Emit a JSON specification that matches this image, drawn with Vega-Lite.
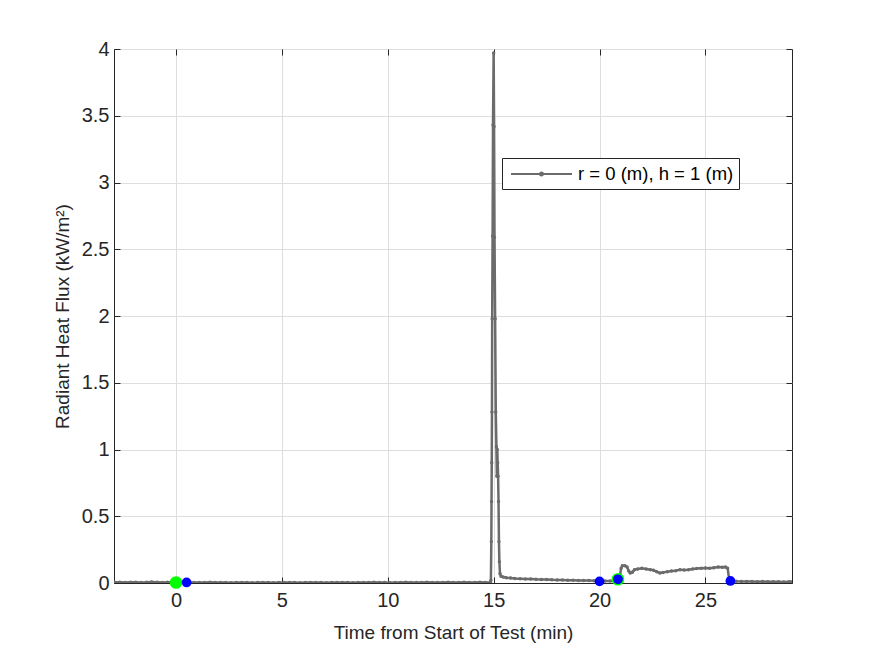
{
  "$schema": "https://vega.github.io/schema/vega-lite/v6.json",
  "autosize": {"type": "none"},
  "width": 678,
  "height": 534,
  "padding": {"left": 114, "top": 49, "right": 83, "bottom": 73},
  "background": "white",
  "config": {
    "view": {"stroke": "#262626", "strokeWidth": 1},
    "font": "Liberation Sans",
    "axis": {
      "labelFont": "Liberation Sans",
      "titleFont": "Liberation Sans",
      "labelColor": "#262626",
      "titleColor": "#262626",
      "labelFontSize": 20,
      "titleFontSize": 19,
      "titleFontWeight": "normal",
      "domainColor": "#262626",
      "tickColor": "#262626",
      "gridColor": "#dedede",
      "gridWidth": 1,
      "tickSize": -6
    },
    "axisX": {"labelPadding": 13},
    "axisY": {"labelPadding": 11}
  },
  "datasets": {
    "flux": [
      {"t": -2.9, "q": 0.006}, {"t": -2.65, "q": 0.005}, {"t": -2.4, "q": 0.004}, {"t": -2.15, "q": 0.006},
      {"t": -1.9, "q": 0.005}, {"t": -1.65, "q": 0.004}, {"t": -1.4, "q": 0.005}, {"t": -1.15, "q": 0.007},
      {"t": -0.9, "q": 0.006}, {"t": -0.65, "q": 0.004}, {"t": -0.4, "q": 0.005}, {"t": -0.15, "q": 0.006},
      {"t": 0.1, "q": 0.004}, {"t": 0.35, "q": 0.003}, {"t": 0.6, "q": 0.005}, {"t": 0.85, "q": 0.004},
      {"t": 1.1, "q": 0.003}, {"t": 1.35, "q": 0.004}, {"t": 1.6, "q": 0.005}, {"t": 1.85, "q": 0.003},
      {"t": 2.1, "q": 0.004}, {"t": 2.35, "q": 0.003}, {"t": 2.6, "q": 0.002}, {"t": 2.85, "q": 0.003},
      {"t": 3.1, "q": 0.004}, {"t": 3.35, "q": 0.003}, {"t": 3.6, "q": 0.002}, {"t": 3.85, "q": 0.003},
      {"t": 4.1, "q": 0.004}, {"t": 4.35, "q": 0.003}, {"t": 4.6, "q": 0.002}, {"t": 4.85, "q": 0.003},
      {"t": 5.1, "q": 0.004}, {"t": 5.35, "q": 0.003}, {"t": 5.6, "q": 0.004}, {"t": 5.85, "q": 0.002},
      {"t": 6.1, "q": 0.003}, {"t": 6.35, "q": 0.004}, {"t": 6.6, "q": 0.003}, {"t": 6.85, "q": 0.003},
      {"t": 7.1, "q": 0.002}, {"t": 7.35, "q": 0.004}, {"t": 7.6, "q": 0.003}, {"t": 7.85, "q": 0.003},
      {"t": 8.1, "q": 0.004}, {"t": 8.35, "q": 0.002}, {"t": 8.6, "q": 0.003}, {"t": 8.85, "q": 0.004},
      {"t": 9.1, "q": 0.003}, {"t": 9.35, "q": 0.005}, {"t": 9.6, "q": 0.003}, {"t": 9.85, "q": 0.004},
      {"t": 10.1, "q": 0.002}, {"t": 10.35, "q": 0.003}, {"t": 10.6, "q": 0.004}, {"t": 10.85, "q": 0.005},
      {"t": 11.1, "q": 0.003}, {"t": 11.35, "q": 0.004}, {"t": 11.6, "q": 0.003}, {"t": 11.85, "q": 0.005},
      {"t": 12.1, "q": 0.004}, {"t": 12.35, "q": 0.003}, {"t": 12.6, "q": 0.004}, {"t": 12.85, "q": 0.005},
      {"t": 13.1, "q": 0.003}, {"t": 13.35, "q": 0.004}, {"t": 13.6, "q": 0.005}, {"t": 13.85, "q": 0.004},
      {"t": 14.1, "q": 0.003}, {"t": 14.35, "q": 0.005}, {"t": 14.6, "q": 0.004}, {"t": 14.85, "q": 0.005},
      {"t": 14.87, "q": 0.02}, {"t": 14.89, "q": 0.31}, {"t": 14.9, "q": 0.61}, {"t": 14.91, "q": 0.9},
      {"t": 14.92, "q": 1.28}, {"t": 14.93, "q": 1.98}, {"t": 14.95, "q": 2.6}, {"t": 14.97, "q": 3.43},
      {"t": 15.0, "q": 3.97}, {"t": 15.02, "q": 3.42}, {"t": 15.04, "q": 2.59}, {"t": 15.07, "q": 1.98},
      {"t": 15.1, "q": 1.28}, {"t": 15.13, "q": 1.02}, {"t": 15.15, "q": 0.8}, {"t": 15.17, "q": 1.0},
      {"t": 15.19, "q": 0.9}, {"t": 15.21, "q": 0.8}, {"t": 15.23, "q": 0.61}, {"t": 15.25, "q": 0.31},
      {"t": 15.27, "q": 0.16}, {"t": 15.3, "q": 0.07}, {"t": 15.35, "q": 0.05}, {"t": 15.45, "q": 0.045},
      {"t": 15.6, "q": 0.04}, {"t": 15.8, "q": 0.037}, {"t": 16.0, "q": 0.034}, {"t": 16.25, "q": 0.032},
      {"t": 16.5, "q": 0.03}, {"t": 16.75, "q": 0.03}, {"t": 17.0, "q": 0.028}, {"t": 17.25, "q": 0.027},
      {"t": 17.5, "q": 0.026}, {"t": 17.75, "q": 0.024}, {"t": 18.0, "q": 0.023}, {"t": 18.25, "q": 0.022},
      {"t": 18.5, "q": 0.021}, {"t": 18.75, "q": 0.02}, {"t": 19.0, "q": 0.019}, {"t": 19.25, "q": 0.019},
      {"t": 19.5, "q": 0.018}, {"t": 19.75, "q": 0.017}, {"t": 20.0, "q": 0.016}, {"t": 20.25, "q": 0.015},
      {"t": 20.5, "q": 0.015}, {"t": 20.75, "q": 0.016}, {"t": 20.9, "q": 0.02}, {"t": 20.97, "q": 0.06},
      {"t": 21.02, "q": 0.11}, {"t": 21.08, "q": 0.13}, {"t": 21.2, "q": 0.13}, {"t": 21.3, "q": 0.12},
      {"t": 21.38, "q": 0.09}, {"t": 21.45, "q": 0.075}, {"t": 21.55, "q": 0.08}, {"t": 21.65, "q": 0.1},
      {"t": 21.8, "q": 0.105}, {"t": 22.0, "q": 0.11}, {"t": 22.2, "q": 0.105}, {"t": 22.4, "q": 0.1},
      {"t": 22.55, "q": 0.095}, {"t": 22.7, "q": 0.085}, {"t": 22.85, "q": 0.075}, {"t": 23.0, "q": 0.078},
      {"t": 23.2, "q": 0.085}, {"t": 23.4, "q": 0.09}, {"t": 23.6, "q": 0.092}, {"t": 23.8, "q": 0.1},
      {"t": 24.0, "q": 0.098}, {"t": 24.2, "q": 0.1}, {"t": 24.4, "q": 0.105}, {"t": 24.6, "q": 0.108},
      {"t": 24.8, "q": 0.11}, {"t": 25.0, "q": 0.112}, {"t": 25.2, "q": 0.11}, {"t": 25.4, "q": 0.115},
      {"t": 25.6, "q": 0.12}, {"t": 25.8, "q": 0.118}, {"t": 25.95, "q": 0.12}, {"t": 26.05, "q": 0.11},
      {"t": 26.12, "q": 0.03}, {"t": 26.2, "q": 0.015}, {"t": 26.45, "q": 0.013}, {"t": 26.7, "q": 0.012},
      {"t": 26.95, "q": 0.012}, {"t": 27.2, "q": 0.011}, {"t": 27.45, "q": 0.01}, {"t": 27.7, "q": 0.011},
      {"t": 27.95, "q": 0.009}, {"t": 28.2, "q": 0.01}, {"t": 28.45, "q": 0.009}, {"t": 28.7, "q": 0.008},
      {"t": 28.95, "q": 0.009}, {"t": 29.05, "q": 0.008}
    ],
    "green": [
      {"t": 0.0, "q": 0.004},
      {"t": 20.87, "q": 0.028}
    ],
    "blue": [
      {"t": 0.5, "q": 0.004},
      {"t": 20.0, "q": 0.012},
      {"t": 20.87, "q": 0.028},
      {"t": 26.18, "q": 0.015}
    ]
  },
  "resolve": {"axis": {"x": "independent", "y": "independent"}},
  "layer": [
    {
      "data": {"name": "flux"},
      "transform": [{"calculate": "'r = 0 (m), h = 1 (m)'", "as": "series"}],
      "mark": {"type": "line", "strokeWidth": 2.5, "clip": true, "point": {"filled": true, "size": 12, "opacity": 1}},
      "encoding": {
        "x": {
          "field": "t", "type": "quantitative",
          "scale": {"domain": [-2.93, 29.09], "nice": false, "zero": false},
          "axis": {"values": [0, 5, 10, 15, 20, 25], "title": "Time from Start of Test (min)", "titlePadding": 13, "grid": true}
        },
        "y": {
          "field": "q", "type": "quantitative",
          "scale": {"domain": [0, 4], "nice": false},
          "axis": {"values": [0, 0.5, 1, 1.5, 2, 2.5, 3, 3.5, 4], "format": "~g", "title": "Radiant Heat Flux (kW/m²)", "titlePadding": 9, "grid": true}
        },
        "color": {
          "field": "series", "type": "nominal",
          "scale": {"range": ["#6b6b6b"]},
          "legend": {
            "title": null,
            "orient": "none",
            "legendX": 388,
            "legendY": 109,
            "direction": "vertical",
            "strokeColor": "#262626",
            "fillColor": "white",
            "padding": 5,
            "symbolType": "M-0.7,0L5.4,0M2.2,0A0.15,0.15,0,1,1,2.5,0A0.15,0.15,0,1,1,2.2,0Z",
            "symbolSize": 400,
            "symbolStrokeWidth": 2,
            "symbolStrokeColor": "#6b6b6b",
            "symbolFillColor": "#6b6b6b",
            "labelFont": "Liberation Sans",
            "labelFontSize": 18.5,
            "labelColor": "#000000",
            "labelOffset": 49,
            "labelLimit": 400
          }
        }
      }
    },
    {
      "data": {"name": "green"},
      "mark": {"type": "point", "filled": true, "shape": "circle", "size": 160, "color": "#00ff00", "opacity": 1, "clip": false},
      "encoding": {
        "x": {"field": "t", "type": "quantitative", "axis": {"orient": "top", "labels": false, "grid": false, "domain": false, "title": null, "values": [0, 5, 10, 15, 20, 25]}},
        "y": {"field": "q", "type": "quantitative", "axis": {"orient": "right", "labels": false, "grid": false, "domain": false, "title": null, "values": [0, 0.5, 1, 1.5, 2, 2.5, 3, 3.5, 4]}}
      }
    },
    {
      "data": {"name": "blue"},
      "mark": {"type": "point", "filled": true, "shape": "circle", "size": 95, "color": "#0000ff", "opacity": 1, "clip": false},
      "encoding": {
        "x": {"field": "t", "type": "quantitative", "axis": null},
        "y": {"field": "q", "type": "quantitative", "axis": null}
      }
    }
  ]
}
